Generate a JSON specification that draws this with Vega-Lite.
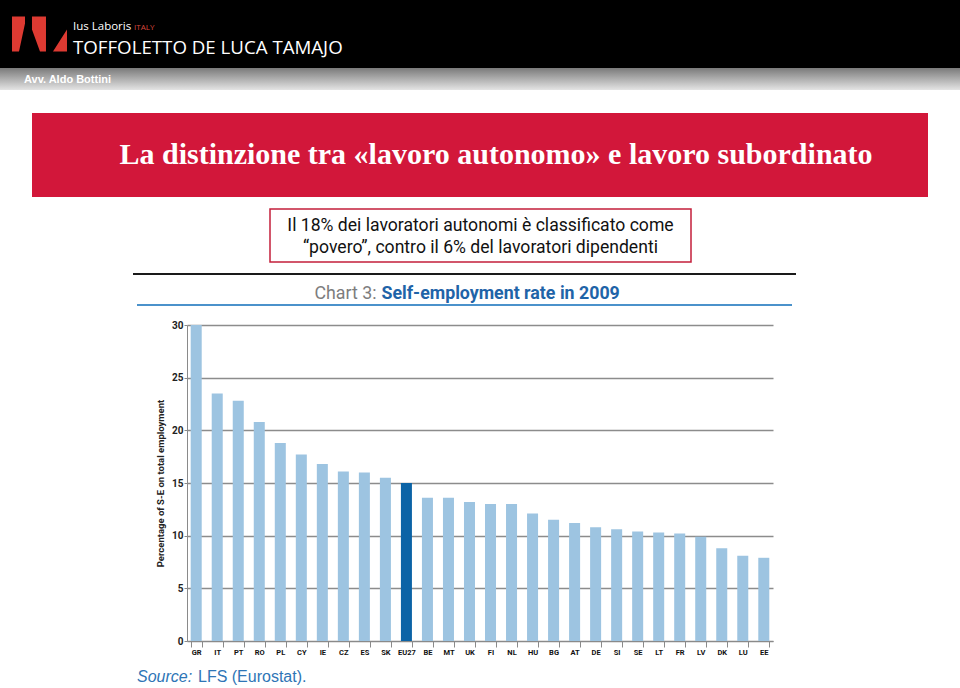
{
  "$schema": "https://vega.github.io/schema/vega-lite/v6.json",
  "padding": 0,
  "background": "white",
  "spacing": 0,
  "config": {"view": {"stroke": null}, "concat": {"spacing": 0}, "font": "Liberation Sans"},
  "vconcat": [
    {
      "spacing": 0,
      "hconcat": [
        {
          "width": 72, "height": 68,
          "data": {"values": [{}]},
          "layer": [
            {"mark": {"type": "rect", "fill": "#000000"}, "encoding": {}},
            {"mark": {"type": "point", "shape": "M-0.873,-0.636L-0.4,-0.636L-0.4,-0.382L-0.618,0.636L-0.873,0.636ZM-0.146,-0.636L0.363,-0.636L0.363,0.636L0.145,0.636L-0.146,-0.164ZM0.618,0.636L1.127,0.636L1.127,-0.164Z", "size": 3025, "filled": true, "fill": "#dd3a32", "opacity": 1, "strokeWidth": 0}, "encoding": {}}
          ]
        },
        {
          "width": 888, "height": 68,
          "data": {"values": [{}]},
          "layer": [
            {"mark": {"type": "rect", "fill": "#000000"}, "encoding": {}},
            {"mark": {"type": "text", "font": "Open Sans", "fontSize": 11.5, "color": "#ffffff", "align": "left", "baseline": "alphabetic", "dx": -443, "dy": -4}, "encoding": {"text": {"value": "Ius Laboris"}}},
            {"mark": {"type": "text", "font": "Open Sans", "fontSize": 8, "color": "#d9473c", "align": "left", "baseline": "alphabetic", "dx": -382, "dy": -4}, "encoding": {"text": {"value": "ITALY"}}},
            {"mark": {"type": "text", "font": "Open Sans", "fontSize": 18.7, "color": "#ffffff", "align": "left", "baseline": "alphabetic", "dx": -443, "dy": 20}, "encoding": {"text": {"value": "TOFFOLETTO DE LUCA TAMAJO"}}}
          ]
        }
      ]
    },
    {
      "width": 960, "height": 22,
      "data": {"values": [{}]},
      "layer": [
        {"mark": {"type": "rect", "color": {"gradient": "linear", "x1": 0, "y1": 0, "x2": 0, "y2": 1, "stops": [{"offset": 0, "color": "#7a7a7a"}, {"offset": 1, "color": "#e4e4e4"}]}}, "encoding": {}},
        {"mark": {"type": "text", "fontSize": 11, "fontWeight": "bold", "color": "#ffffff", "align": "left", "baseline": "middle", "dx": -456, "dy": 1}, "encoding": {"text": {"value": "Avv. Aldo Bottini"}}}
      ]
    },
    {"width": 960, "height": 23, "data": {"values": [{}]}, "mark": {"type": "rect", "fill": "#ffffff"}, "encoding": {}},
    {
      "spacing": 0,
      "hconcat": [
        {"width": 32, "height": 84, "data": {"values": [{}]}, "mark": {"type": "rect", "fill": "#ffffff"}, "encoding": {}},
        {
          "width": 896, "height": 84,
          "data": {"values": [{"t": "La distinzione tra «lavoro autonomo» e lavoro subordinato"}]},
          "layer": [
            {"mark": {"type": "rect", "fill": "#d2173a"}, "encoding": {}},
            {"mark": {"type": "text", "font": "Liberation Serif", "fontWeight": "bold", "fontSize": 30, "color": "#ffffff", "baseline": "middle", "dx": 16}, "encoding": {"text": {"field": "t"}}}
          ]
        }
      ]
    },
    {"width": 960, "height": 11, "data": {"values": [{}]}, "mark": {"type": "rect", "fill": "#ffffff"}, "encoding": {}},
    {
      "spacing": 0,
      "hconcat": [
        {"width": 269, "height": 53, "data": {"values": [{}]}, "mark": {"type": "rect", "fill": "#ffffff"}, "encoding": {}},
        {
          "width": 421, "height": 53,
          "data": {"values": [{"t": "Il 18% dei lavoratori autonomi è classificato come\n“povero”, contro il 6% del lavoratori dipendenti"}]},
          "layer": [
            {"mark": {"type": "rect", "fill": "#ffffff", "stroke": "#c41f3b", "strokeWidth": 1.5}, "encoding": {}},
            {"mark": {"type": "text", "font": "Roboto", "fontSize": 17.6, "lineHeight": 22, "lineBreak": "\n", "color": "#111111", "baseline": "middle", "dy": -10}, "encoding": {"text": {"field": "t"}}}
          ]
        }
      ]
    },
    {"width": 960, "height": 10, "data": {"values": [{}]}, "mark": {"type": "rect", "fill": "#ffffff"}, "encoding": {}},
    {
      "spacing": 0,
      "hconcat": [
        {"width": 133, "height": 2, "data": {"values": [{}]}, "mark": {"type": "rect", "fill": "#ffffff"}, "encoding": {}},
        {"width": 663, "height": 2, "data": {"values": [{}]}, "mark": {"type": "rect", "fill": "#1a1a1a"}, "encoding": {}}
      ]
    },
    {
      "spacing": 0,
      "hconcat": [
        {"width": 137, "height": 29, "data": {"values": [{}]}, "mark": {"type": "rect", "fill": "#ffffff"}, "encoding": {}},
        {
          "width": 655, "height": 29,
          "data": {"values": [{}]},
          "layer": [
            {"mark": {"type": "rect", "fill": "#ffffff"}, "encoding": {}},
            {"mark": {"type": "text", "font": "Roboto", "fontSize": 17.8, "color": "#7d7d7d", "align": "right", "baseline": "alphabetic", "dx": -88, "dy": 9.5}, "encoding": {"text": {"value": "Chart 3:"}}},
            {"mark": {"type": "text", "font": "Roboto", "fontSize": 17.8, "fontWeight": "bold", "color": "#1f64a8", "align": "left", "baseline": "alphabetic", "dx": -83, "dy": 9.5}, "encoding": {"text": {"value": "Self-employment rate in 2009"}}}
          ]
        }
      ]
    },
    {
      "spacing": 0,
      "hconcat": [
        {"width": 137, "height": 2, "data": {"values": [{}]}, "mark": {"type": "rect", "fill": "#ffffff"}, "encoding": {}},
        {"width": 655, "height": 2, "data": {"values": [{}]}, "mark": {"type": "rect", "fill": "#4b92cb"}, "encoding": {}}
      ]
    },
    {"width": 960, "height": 14, "data": {"values": [{}]}, "mark": {"type": "rect", "fill": "#ffffff"}, "encoding": {}},
    {
      "spacing": 0,
      "hconcat": [
        {"width": 155, "height": 10, "data": {"values": [{}]}, "mark": {"type": "rect", "fill": "#ffffff"}, "encoding": {}},
        {
          "width": 586, "height": 316,
          "data": {"values": [
            {"country": "GR", "value": 30.0},
            {"country": "IT", "value": 23.5},
            {"country": "PT", "value": 22.8},
            {"country": "RO", "value": 20.8},
            {"country": "PL", "value": 18.8},
            {"country": "CY", "value": 17.7},
            {"country": "IE", "value": 16.8},
            {"country": "CZ", "value": 16.1},
            {"country": "ES", "value": 16.0},
            {"country": "SK", "value": 15.5},
            {"country": "EU27", "value": 15.0},
            {"country": "BE", "value": 13.6},
            {"country": "MT", "value": 13.6},
            {"country": "UK", "value": 13.2},
            {"country": "FI", "value": 13.0},
            {"country": "NL", "value": 13.0},
            {"country": "HU", "value": 12.1},
            {"country": "BG", "value": 11.5},
            {"country": "AT", "value": 11.2},
            {"country": "DE", "value": 10.8},
            {"country": "SI", "value": 10.6},
            {"country": "SE", "value": 10.4},
            {"country": "LT", "value": 10.3},
            {"country": "FR", "value": 10.2},
            {"country": "LV", "value": 9.9},
            {"country": "DK", "value": 8.8},
            {"country": "LU", "value": 8.1},
            {"country": "EE", "value": 7.9}
          ]},
          "mark": {"type": "bar"},
          "encoding": {
            "x": {
              "field": "country", "type": "nominal", "sort": null,
              "scale": {"paddingInner": 0.476, "paddingOuter": 0.176},
              "axis": {"title": null, "labelAngle": 0, "labelOverlap": false, "tickBand": "extent", "tickSize": 6, "tickColor": "#8a8a8a", "domainColor": "#8a8a8a", "labelFont": "Roboto", "labelFontWeight": "bold", "labelFontSize": 7.5, "labelColor": "#111111", "labelPadding": 1}
            },
            "y": {
              "field": "value", "type": "quantitative",
              "scale": {"domain": [0, 30], "nice": false},
              "axis": {"values": [0, 5, 10, 15, 20, 25, 30], "title": "Percentage of S-E on total employment", "grid": true, "gridColor": "#8c8c8c", "gridWidth": 1.3, "domainColor": "#8a8a8a", "tickColor": "#8a8a8a", "tickSize": 3, "labelPadding": 1, "labelFont": "Roboto", "labelFontSize": 10, "labelFontWeight": "bold", "labelColor": "#222222", "titleFont": "Roboto", "titleFontSize": 9.5, "titleFontWeight": "bold", "titleColor": "#222222", "titlePadding": 6}
            },
            "color": {"condition": {"test": "datum.country === 'EU27'", "value": "#0b63a6"}, "value": "#9dc4e1"}
          }
        }
      ]
    },
    {"width": 960, "height": 9, "data": {"values": [{}]}, "mark": {"type": "rect", "fill": "#ffffff"}, "encoding": {}},
    {
      "width": 960, "height": 23,
      "data": {"values": [{}]},
      "layer": [
        {"mark": {"type": "rect", "fill": "#ffffff"}, "encoding": {}},
        {"mark": {"type": "text", "fontSize": 16, "fontStyle": "italic", "color": "#2e75b6", "align": "left", "baseline": "alphabetic", "dx": -343, "dy": 5}, "encoding": {"text": {"value": "Source:"}}},
        {"mark": {"type": "text", "fontSize": 16, "color": "#2e75b6", "align": "left", "baseline": "alphabetic", "dx": -282, "dy": 5}, "encoding": {"text": {"value": "LFS (Eurostat)."}}}
      ]
    }
  ]
}
